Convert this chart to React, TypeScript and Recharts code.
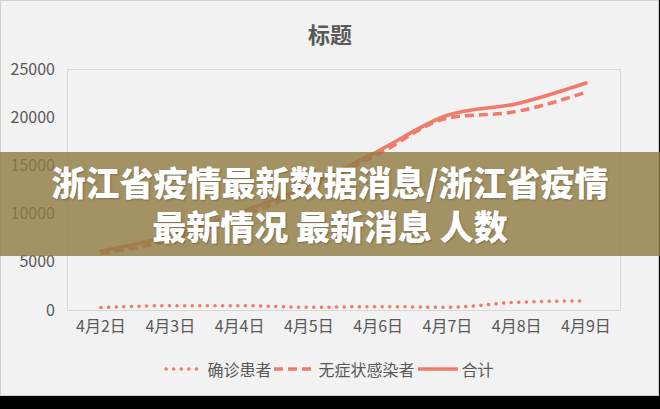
import { LineChart, Line, XAxis, YAxis, Legend } from 'recharts';

const dates = ['4月2日', '4月3日', '4月4日', '4月5日', '4月6日', '4月7日', '4月8日', '4月9日'];
const confirmed = [250, 450, 450, 280, 350, 280, 800, 950];
const asymptomatic = [5850, 7250, 9650, 12600, 16150, 19900, 20600, 22600];
const total = [6100, 7700, 10100, 12900, 16500, 20200, 21400, 23550];
const yTicks = [0, 5000, 10000, 15000, 20000, 25000];

const LINE = '#ef7b6b';
const TEXT = '#595959';
const FONT = '"Noto Sans CJK SC", "Microsoft YaHei", sans-serif';

const series = [
  { key: '确诊患者', dash: '0.1 7.5', cap: 'round' as const, width: 3.5 },
  { key: '无症状感染者', dash: '9 5', cap: 'butt' as const, width: 3.5 },
  { key: '合计', dash: undefined, cap: 'round' as const, width: 3.5 },
];

const data = dates.map((d, i) => ({
  name: d,
  确诊患者: confirmed[i],
  无症状感染者: asymptomatic[i],
  合计: total[i],
}));

function LegendBox() {
  return (
    <div style={{ display: 'flex', justifyContent: 'center', alignItems: 'center', fontFamily: FONT, fontSize: 16, color: TEXT }}>
      {series.map((s) => (
        <div key={s.key} style={{ display: 'flex', alignItems: 'center', marginRight: 3 }}>
          <svg width={40} height={10} style={{ marginRight: 4 }}>
            <line x1={s.cap === 'round' && s.dash ? 3 : 0} y1={5} x2={40} y2={5} stroke={LINE} strokeWidth={s.width}
              strokeDasharray={s.dash} strokeLinecap={s.cap} />
          </svg>
          <span>{s.key}</span>
        </div>
      ))}
    </div>
  );
}

export default function App() {
  return (
    <div style={{ position: 'fixed', left: 0, top: 0, width: 660, height: 409, background: '#000', overflow: 'hidden' }}>
      <div style={{ position: 'absolute', left: 0, top: 0, width: 657, height: 394, background: '#f2f2f2', border: '1px solid #d0d0d0' }} />
      <div style={{ position: 'absolute', left: 0, top: 17, width: 660, textAlign: 'center', fontFamily: FONT, fontSize: 22, fontWeight: 700, color: TEXT }}>
        标题
      </div>
      <div style={{ position: 'absolute', left: 67, top: 69, width: 552, height: 240, border: '1px solid #d9d9d9' }} />
      <div style={{ position: 'absolute', left: 0, top: 0 }}>
        <LineChart width={660} height={396} data={data} margin={{ top: 69, right: 40, bottom: 56, left: 0 }}>
          <XAxis dataKey="name" height={30} axisLine={false} tickLine={false} tickSize={0} tickMargin={11}
            padding={{ left: 34, right: 34 }} interval={0}
            tick={{ fill: TEXT, fontSize: 16, fontFamily: FONT }} />
          <YAxis width={67} domain={[0, 25000]} ticks={yTicks} axisLine={false} tickLine={false} tickSize={0} tickMargin={12}
            tick={{ fill: TEXT, fontSize: 16, fontFamily: FONT }} />
          <Legend layout="horizontal" verticalAlign="middle" align="center" content={<LegendBox />}
            wrapperStyle={{ top: 357, left: 0, width: 660 }} />
          {series.map((s) => (
            <Line key={s.key} type="monotone" dataKey={s.key} stroke={LINE} strokeWidth={s.width}
              strokeDasharray={s.dash} strokeLinecap={s.cap} dot={false} isAnimationActive={false} />
          ))}
        </LineChart>
      </div>
      <div style={{ position: 'absolute', left: 0, top: 152, width: 660, height: 104, background: 'rgba(145,124,68,0.82)',
        display: 'flex', flexDirection: 'column', justifyContent: 'center', alignItems: 'center',
        fontFamily: FONT, fontWeight: 900, fontSize: 34, lineHeight: '44px', color: '#fff',
        textShadow: '1px 1px 2px rgba(0,0,0,0.25)' }}>
        <div>浙江省疫情最新数据消息/浙江省疫情</div>
        <div>最新情况 最新消息 人数</div>
      </div>
    </div>
  );
}
